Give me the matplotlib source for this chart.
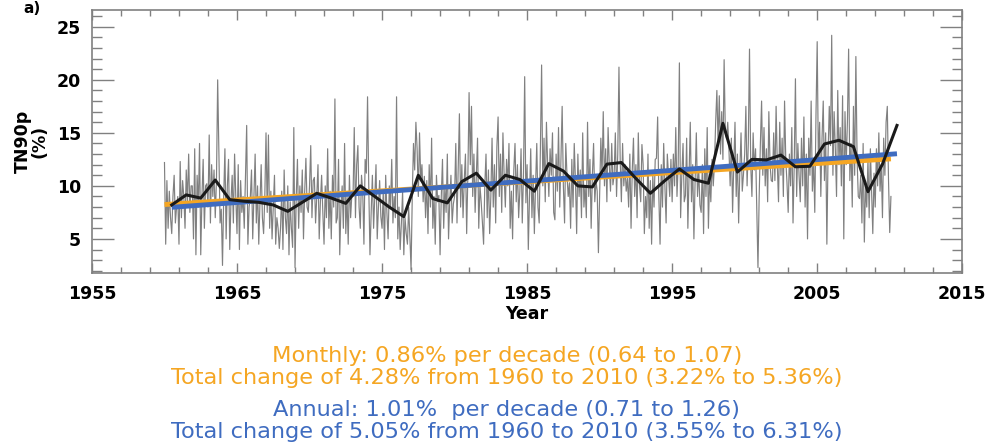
import numpy as np
import matplotlib.pyplot as plt
from matplotlib.ticker import MultipleLocator

# --- annual TN90p (%) 1960-2010 ---
years = np.arange(1960, 2011)
annual = [8.2, 9.15, 8.85, 10.55, 8.7, 8.55, 8.45, 8.2, 7.6, 8.45,
          9.3, 8.85, 8.35, 10.0, 9.0, 8.0, 7.1, 11.0, 8.8, 8.4,
          10.4, 11.2, 9.6, 11.0, 10.6, 9.5, 12.1, 11.4, 10.0, 9.9,
          12.05, 12.2, 10.7, 9.3, 10.5, 11.6, 10.6, 10.25, 15.9, 11.3,
          12.5, 12.45, 12.9, 11.8, 11.85, 13.95, 14.3, 13.7, 9.45, 12.05,
          15.7]

# --- monthly TN90p (%), one row per year, Jan 1960 - Feb 2010 ---
monthly = [
    [12.2, 4.5, 10.5, 6.0, 9.5, 7.0, 5.5, 9.0, 11.0, 6.5, 8.0, 9.0],
    [4.5, 12.3, 7.0, 10.5, 9.0, 6.0, 11.5, 8.5, 13.0, 7.5, 10.0, 10.0],
    [5.0, 13.5, 3.5, 11.0, 8.0, 14.0, 3.5, 9.0, 12.5, 6.0, 10.0, 10.2],
    [8.0, 14.8, 6.5, 12.0, 9.0, 11.5, 7.0, 10.5, 20.0, 13.0, 6.5, 7.8],
    [2.5, 9.0, 13.5, 5.0, 10.0, 12.5, 4.0, 8.5, 11.0, 6.5, 13.0, 8.9],
    [5.5, 12.0, 4.0, 10.5, 7.5, 9.0, 6.0, 11.0, 15.7, 4.5, 8.0, 8.9],
    [11.5, 5.0, 9.0, 13.0, 6.5, 10.0, 4.5, 8.5, 12.0, 7.0, 5.5, 9.0],
    [15.0, 7.5, 14.8, 6.0, 9.5, 5.0, 8.0, 11.0, 4.5, 7.0, 6.0, 4.1],
    [6.0, 9.5, 4.0, 11.5, 7.0, 5.5, 10.0, 3.5, 8.5, 6.0, 4.2, 15.5],
    [2.3, 9.0, 12.5, 6.0, 10.0, 7.5, 11.5, 5.0, 9.5, 12.6, 8.0, 7.5],
    [10.0, 13.8, 7.0, 10.5, 10.8, 6.5, 9.0, 12.0, 5.0, 8.5, 11.0, 7.5],
    [4.5, 10.0, 7.0, 13.5, 6.0, 9.5, 5.0, 11.0, 8.0, 18.2, 6.5, 7.0],
    [12.5, 3.5, 8.0, 10.0, 6.0, 14.0, 5.5, 9.0, 4.5, 11.0, 7.0, 9.2],
    [9.0, 15.5, 7.0, 12.0, 13.8, 8.0, 6.0, 11.0, 9.5, 4.5, 12.5, 11.2],
    [18.4, 10.0, 3.5, 7.5, 11.0, 6.0, 9.0, 12.0, 5.0, 8.0, 10.5, 7.1],
    [6.0, 9.5, 4.0, 11.0, 7.5, 5.0, 10.0, 8.0, 12.5, 6.5, 9.0, 7.0],
    [18.4, 5.0, 8.0, 4.0, 6.5, 9.5, 3.5, 7.0, 5.5, 4.5, 8.0, 5.3],
    [2.1, 9.0, 14.0, 11.5, 16.0, 13.5, 9.0, 15.0, 10.5, 12.0, 8.5, 10.9],
    [7.0, 10.5, 5.5, 12.0, 8.0, 14.5, 6.0, 9.0, 4.5, 11.0, 8.5, 9.1],
    [3.5, 9.0, 12.5, 6.0, 10.0, 7.5, 13.0, 5.0, 8.5, 11.0, 6.5, 8.3],
    [9.0, 14.0, 6.5, 11.5, 16.8, 8.0, 12.0, 7.0, 10.5, 13.0, 5.5, 11.0],
    [18.8, 12.0, 17.5, 9.0, 13.0, 7.5, 11.0, 14.5, 6.0, 10.0, 8.5, 6.6],
    [4.5, 10.0, 13.0, 7.0, 11.5, 5.5, 9.0, 14.5, 8.0, 12.0, 6.5, 13.7],
    [16.5, 9.0, 13.0, 7.5, 15.0, 11.0, 8.0, 12.5, 10.0, 14.0, 6.0, 9.5],
    [5.0, 11.5, 14.0, 8.5, 12.0, 7.0, 9.5, 13.5, 6.5, 11.0, 20.3, 8.4],
    [12.0, 4.0, 9.0, 13.5, 7.0, 11.0, 5.5, 10.0, 14.0, 8.0, 6.5, 13.5],
    [21.4, 10.0, 14.5, 8.5, 16.0, 12.0, 9.0, 13.5, 11.0, 15.0, 7.5, 6.8],
    [13.0, 9.5, 15.5, 8.0, 12.5, 17.5, 10.0, 6.5, 14.0, 11.0, 9.0, 10.3],
    [6.0, 12.5, 8.0, 14.0, 10.5, 5.5, 13.0, 9.0, 11.5, 7.0, 15.0, 8.0],
    [10.0, 7.0, 16.0, 9.0, 12.5, 6.0, 11.0, 14.0, 8.5, 10.5, 9.5, 3.7],
    [9.0, 14.5, 11.0, 17.0, 10.0, 13.5, 8.5, 15.5, 12.0, 9.5, 14.0, 10.1],
    [11.0, 15.0, 9.0, 13.0, 21.2, 12.5, 8.5, 14.0, 10.0, 12.0, 9.5, 10.7],
    [8.0, 13.0, 6.0, 11.5, 14.5, 9.0, 12.0, 7.0, 15.0, 10.0, 8.5, 13.9],
    [12.0, 5.5, 9.0, 7.0, 13.0, 6.0, 10.5, 4.5, 11.0, 8.0, 12.5, 12.6],
    [16.5, 9.0, 4.5, 12.0, 8.0, 14.0, 10.0, 6.5, 13.0, 11.0, 9.0, 12.5],
    [8.5, 13.0, 10.0, 15.5, 9.0, 12.0, 21.6, 7.0, 11.0, 14.0, 8.5, 9.1],
    [14.5, 6.0, 11.0, 16.0, 8.5, 12.0, 5.0, 10.5, 15.0, 9.0, 11.5, 8.2],
    [7.5, 12.0, 5.5, 13.5, 9.0, 15.5, 6.0, 11.0, 8.5, 12.5, 10.0, 12.0],
    [16.0, 19.0, 14.0, 18.5, 13.0, 17.0, 12.5, 21.9, 15.0, 14.5, 16.0, 13.4],
    [10.0, 14.5, 7.5, 12.0, 16.0, 9.0, 13.0, 6.5, 11.5, 15.0, 9.5, 11.1],
    [13.0, 17.5, 10.0, 14.0, 22.9, 12.0, 9.0, 15.0, 11.5, 13.5, 8.0, 2.3],
    [9.0, 14.0, 18.0, 11.0, 15.5, 10.0, 13.5, 8.5, 17.0, 12.0, 10.5, 10.4],
    [15.0, 10.5, 17.5, 12.0, 8.5, 16.0, 11.0, 14.5, 9.0, 18.0, 12.5, 10.3],
    [7.5, 13.0, 10.0, 15.5, 6.5, 12.0, 20.1, 9.0, 14.0, 11.0, 8.5, 14.5],
    [10.0, 16.5, 8.0, 13.0, 5.0, 14.5, 11.0, 18.0, 9.5, 12.5, 7.5, 16.7],
    [23.6, 12.0, 16.0, 9.0, 14.5, 18.0, 10.5, 15.0, 4.5, 13.0, 17.5, 13.8],
    [24.2, 11.0, 17.0, 13.5, 9.0, 19.0, 12.0, 15.5, 10.0, 18.5, 5.0, 17.0],
    [12.0, 16.0, 22.9, 10.5, 14.0, 8.0, 17.5, 11.0, 22.2, 12.5, 9.0, 8.8],
    [11.0, 6.5, 14.0, 4.7, 10.0, 8.0, 12.5, 7.0, 13.5, 9.5, 5.5, 11.2],
    [8.0, 13.5, 10.0, 15.0, 9.5, 12.0, 7.0, 14.5, 11.0, 16.0, 17.5, 10.6],
    [5.6, 9.0],
]

# --- trends (% per decade) and trend line start values ---
monthly_trend = 0.86
monthly_start = 8.24
annual_trend = 1.01
annual_start = 7.98

xticks = [1955, 1965, 1975, 1985, 1995, 2005, 2015]
yticks = [5, 10, 15, 20, 25]

orange = '#F5A623'
blue = '#3F6CC0'

m_vals = np.concatenate([np.array(r) for r in monthly])
m_time = 1960 + np.arange(len(m_vals)) / 12.0
a_time = years + 0.5

fig = plt.figure(figsize=(9.92, 4.48), dpi=100)
ax = fig.add_axes([0.0927, 0.391, 0.8773, 0.587])

ax.plot(m_time, m_vals, color='#808080', linewidth=0.85, zorder=1)

t_o = np.array([m_time[0], m_time[-1]])
ax.plot(t_o, monthly_start + monthly_trend / 10 * (t_o - t_o[0]),
        color=orange, linewidth=3.5, solid_capstyle='butt', zorder=2)
t_b = np.array([a_time[0], a_time[-1]])
ax.plot(t_b, annual_start + annual_trend / 10 * (t_b - t_b[0]),
        color=blue, linewidth=3.5, solid_capstyle='butt', zorder=3)

ax.plot(a_time, annual, color='#1a1a1a', linewidth=2.2, zorder=4)

# --- axes styling (IDL look) ---
ax.set_xlim(1955, 2015)
ax.set_ylim(1.8, 26.6)
ax.set_xticks(xticks)
ax.set_xticks(np.arange(1957, 2015, 2), minor=True)
ax.set_yticks(yticks)
ax.yaxis.set_minor_locator(MultipleLocator(1))
ax.tick_params(which='both', direction='in', top=True, right=True,
               color='#808080', width=1, labelsize=12.5)
ax.tick_params(axis='y', which='major', length=16, pad=8)
ax.tick_params(axis='y', which='minor', length=7)
ax.tick_params(axis='x', which='major', length=7, pad=9)
ax.tick_params(axis='x', which='minor', length=4)
for s in ax.spines.values():
    s.set_color('#808080')
    s.set_linewidth(1.2)
for lab in ax.get_xticklabels() + ax.get_yticklabels():
    lab.set_fontweight('bold')

ax.set_xlabel('Year', fontsize=12.5, fontweight='bold', labelpad=1)
ax.set_ylabel('TN90p\n(%)', fontsize=12.5, fontweight='bold',
              linespacing=0.9, labelpad=6)

fig.text(0.024, 0.998, 'a)', fontsize=11, fontweight='bold', va='top',
         ha='left')

# --- trend text ---
fs = 16.2
fig.text(0.511, 0.205, 'Monthly: 0.86% per decade (0.64 to 1.07)',
         color=orange, fontsize=fs, ha='center', va='center')
fig.text(0.511, 0.156, 'Total change of 4.28% from 1960 to 2010 (3.22% to 5.36%)',
         color=orange, fontsize=fs, ha='center', va='center')
fig.text(0.511, 0.084, 'Annual: 1.01%  per decade (0.71 to 1.26)',
         color=blue, fontsize=fs, ha='center', va='center')
fig.text(0.511, 0.035, 'Total change of 5.05% from 1960 to 2010 (3.55% to 6.31%)',
         color=blue, fontsize=fs, ha='center', va='center')

fig.savefig('out.png', dpi=100)
